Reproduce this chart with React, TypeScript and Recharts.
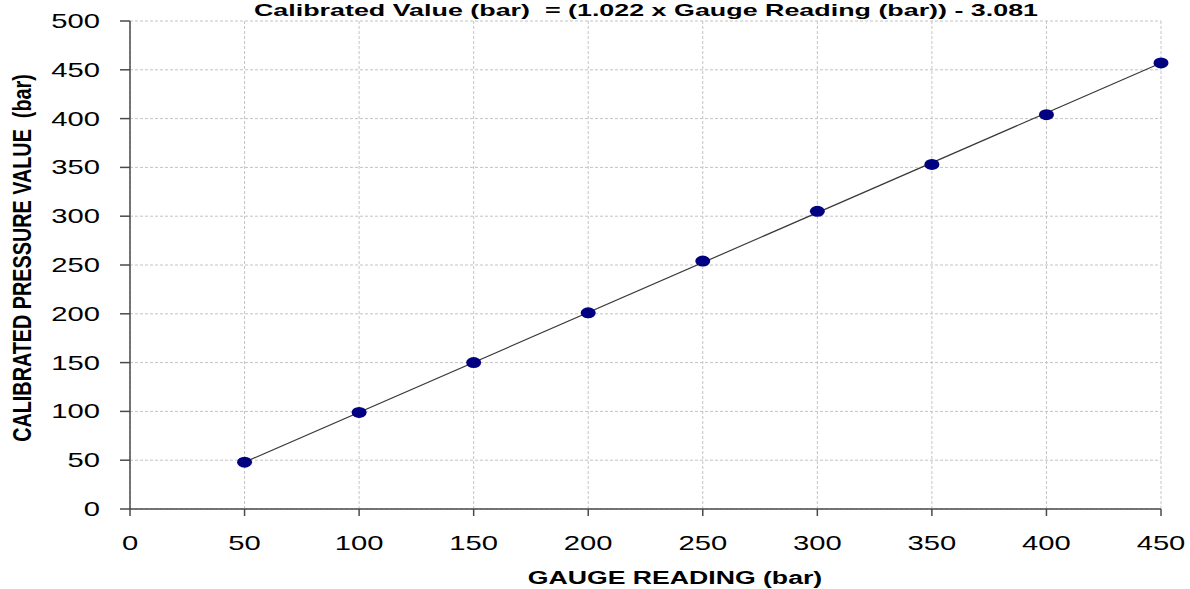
import React from 'react';
import { ScatterChart, Scatter, XAxis, YAxis, CartesianGrid } from 'recharts';

// readings taken off the calibration chart
const gaugeReadings = [50, 100, 150, 200, 250, 300, 350, 400, 450];
const calibratedValues = [48, 99, 150, 201, 254, 305, 353, 404, 457];
const fitGauge = [50, 450];
const fitCalibrated = [48, 457];
const xTicks = [0, 50, 100, 150, 200, 250, 300, 350, 400, 450];
const yTicks = [0, 50, 100, 150, 200, 250, 300, 350, 400, 450, 500];

const TITLE = 'Calibrated Value (bar)  = (1.022 x Gauge Reading (bar)) - 3.081';
const X_LABEL = 'GAUGE READING (bar)';
const Y_LABEL = 'CALIBRATED PRESSURE VALUE  (bar)';

const FONT = '"Liberation Sans", Arial, sans-serif';
const STRETCH = 1.46;

const points = gaugeReadings.map((g, i) => ({ x: g, y: calibratedValues[i] }));
const fitLine = fitGauge.map((g, i) => ({ x: g, y: fitCalibrated[i] }));

const XTick = (props: any) => {
  const { x, y, payload } = props;
  return (
    <text
      transform={`translate(${x},${y}) scale(${STRETCH},1)`}
      x={0}
      y={30}
      textAnchor="middle"
      fontFamily={FONT}
      fontSize={20}
      fill="#000"
    >
      {payload.value}
    </text>
  );
};

const YTick = (props: any) => {
  const { x, y, payload } = props;
  return (
    <text
      transform={`translate(${x},${y}) scale(${STRETCH},1)`}
      x={0}
      y={7}
      textAnchor="end"
      fontFamily={FONT}
      fontSize={20}
      fill="#000"
    >
      {payload.value}
    </text>
  );
};

const Dot = (props: any) => {
  const { cx, cy } = props;
  return <ellipse cx={cx} cy={cy} rx={7.5} ry={5.5} fill="#000080" />;
};

const App: React.FC = () => {
  return (
    <div style={{ position: 'absolute', left: 0, top: 0, width: 1190, height: 589, background: '#fff' }}>
      <ScatterChart width={1190} height={589} margin={{ top: 21, right: 29, bottom: 0, left: 0 }}>
        <CartesianGrid stroke="#c4c4c4" strokeDasharray="3 2" />
        <XAxis
          type="number"
          dataKey="x"
          domain={[0, 450]}
          ticks={xTicks}
          height={80}
          tickSize={7}
          tickMargin={4}
          tick={<XTick />}
          axisLine={{ stroke: '#4a4a4a', strokeWidth: 1.5 }}
          tickLine={{ stroke: '#4a4a4a', strokeWidth: 1.5 }}
        />
        <YAxis
          type="number"
          dataKey="y"
          domain={[0, 500]}
          ticks={yTicks}
          width={130}
          tickSize={10}
          tickMargin={20}
          tick={<YTick />}
          axisLine={{ stroke: '#4a4a4a', strokeWidth: 1.5 }}
          tickLine={{ stroke: '#4a4a4a', strokeWidth: 1.5 }}
        />
        {/* linear fit line */}
        <Scatter
          data={fitLine}
          line={{ stroke: '#3a3a3a', strokeWidth: 1.2 }}
          shape={() => null}
          isAnimationActive={false}
        />
        {/* calibration points */}
        <Scatter data={points} shape={<Dot />} isAnimationActive={false} />
      </ScatterChart>
      <svg
        width={1190}
        height={589}
        style={{ position: 'absolute', left: 0, top: 0, pointerEvents: 'none' }}
      >
        <text
          transform={`translate(646,16) scale(1.58,1)`}
          textAnchor="middle"
          fontFamily={FONT}
          fontWeight="bold"
          fontSize={17}
          style={{ whiteSpace: 'pre' }}
          fill="#000"
        >
          {TITLE}
        </text>
        <text
          transform={`translate(675,584) scale(1.48,1)`}
          textAnchor="middle"
          fontFamily={FONT}
          fontWeight="bold"
          fontSize={18}
          fill="#000"
        >
          {X_LABEL}
        </text>
        <text
          transform={`translate(22,258) rotate(-90) scale(1,1.26)`}
          x={0}
          y={7}
          textAnchor="middle"
          fontFamily={FONT}
          fontWeight="bold"
          fontSize={19.8}
          style={{ whiteSpace: 'pre' }}
          fill="#000"
        >
          {Y_LABEL}
        </text>
      </svg>
    </div>
  );
};

export default App;
